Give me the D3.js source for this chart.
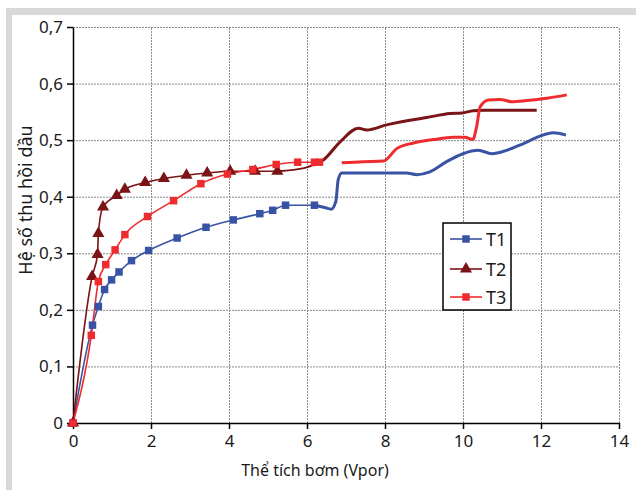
<!DOCTYPE html>
<html><head><meta charset="utf-8">
<script src="https://cdn.jsdelivr.net/npm/d3@7"></script>
<style>body{margin:0;background:#fff}svg{display:block}text{font-family:"Noto Sans",sans-serif;fill:#1a1a1a}</style>
</head><body>
<svg id="c" width="636" height="490"></svg>
<script>
const xTicks = [0,2,4,6,8,10,12,14];
const yTicks = [0,0.1,0.2,0.3,0.4,0.5,0.6,0.7];
const seriesNames = ["T1","T2","T3"];
// marker (measured) points
const t1Markers = [[0,0],[0.50,0.173],[0.65,0.206],[0.81,0.236],[0.99,0.253],[1.18,0.267],[1.50,0.287],[1.94,0.305],[2.67,0.327],[3.41,0.346],[4.11,0.359],[4.79,0.370],[5.12,0.376],[5.45,0.385],[6.19,0.385]];
const t2Markers = [[0,0],[0.49,0.259],[0.63,0.298],[0.65,0.335],[0.77,0.382],[1.12,0.402],[1.33,0.413],[1.85,0.425],[2.33,0.432],[2.91,0.438],[3.44,0.442],[4.03,0.445],[4.67,0.445],[5.24,0.445]];
const t3Markers = [[0,0],[0.47,0.155],[0.65,0.250],[0.84,0.280],[1.08,0.306],[1.33,0.333],[1.91,0.365],[2.58,0.393],[3.28,0.423],[3.96,0.440],[4.61,0.448],[5.21,0.457],[5.76,0.461],[6.19,0.461],[6.32,0.461]];
// thin line continuation after last T2 marker
const t2Bridge = [[5.24,0.445],[5.95,0.451],[6.16,0.456]];
// continuous (thick) tails
const t1Tail = [[6.19,0.385],[6.45,0.381],[6.62,0.378],[6.74,0.392],[6.80,0.430],[6.89,0.442],[8.55,0.442],[8.81,0.439],[9.15,0.444],[9.58,0.462],[10.0,0.476],[10.39,0.482],[10.74,0.476],[11.12,0.482],[11.55,0.494],[11.97,0.507],[12.31,0.513],[12.64,0.509]];
const t2Tail = [[6.16,0.456],[6.42,0.465],[6.85,0.497],[7.32,0.521],[7.53,0.518],[8.04,0.527],[9.07,0.540],[9.67,0.547],[9.97,0.548],[10.26,0.552],[10.52,0.553],[11.89,0.553]];
const t3Tail = [[6.89,0.460],[7.44,0.462],[7.96,0.463],[8.30,0.485],[8.73,0.495],[9.24,0.501],[9.75,0.505],[10.05,0.505],[10.25,0.501],[10.35,0.524],[10.44,0.559],[10.65,0.571],[10.95,0.572],[11.25,0.568],[11.63,0.570],[12.15,0.574],[12.66,0.580]];

const colors = {T1:"#3953a4", T2:"#7a1417", T3:"#ee2b2e"};
const svg = d3.select("#c");

// frame
svg.append("rect").attr("x",6).attr("y",8).attr("width",630).attr("height",7).attr("fill","#d8d8d8");
svg.append("rect").attr("x",6).attr("y",8).attr("width",6).attr("height",482).attr("fill","#d8d8d8");

const x = d3.scaleLinear().domain([0,14]).range([73,619]);
const y = d3.scaleLinear().domain([0,0.7]).range([423,27]);

// grid
const g = svg.append("g");
g.selectAll("line.gy").data(yTicks.filter(d=>d>0)).join("line")
  .attr("x1",x(0)).attr("x2",x(14)).attr("y1",d=>y(d)+0.5).attr("y2",d=>y(d)+0.5)
  .attr("stroke","#8a8a8a").attr("stroke-width",1).attr("stroke-dasharray","2,1");
g.selectAll("line.gx").data(xTicks.filter(d=>d>0)).join("line")
  .attr("x1",d=>x(d)+0.5).attr("x2",d=>x(d)+0.5).attr("y1",y(0)).attr("y2",y(0.7))
  .attr("stroke","#8a8a8a").attr("stroke-width",1).attr("stroke-dasharray","2,1");

// axes
const fmt = d => d===0 ? "0" : d3.format(".1f")(d).replace(".",",");
const ax = svg.append("g").attr("transform",`translate(0,${y(0)})`)
  .call(d3.axisBottom(x).tickValues(xTicks).tickSize(6).tickSizeOuter(0).tickPadding(6).tickFormat(d3.format("d")));
const ay = svg.append("g").attr("transform",`translate(${x(0)},0)`)
  .call(d3.axisLeft(y).tickValues(yTicks).tickSize(6).tickSizeOuter(0).tickPadding(4).tickFormat(fmt));
[ax,ay].forEach(a=>{
  a.selectAll("path,line").attr("stroke","#000").attr("stroke-width",1.5);
  a.selectAll("text").attr("font-size",17).attr("font-family","'Noto Sans',sans-serif").attr("fill","#1a1a1a");
});

svg.append("text").attr("x",315).attr("y",476).attr("text-anchor","middle").attr("font-size",16).text("Thể tích bơm (Vpor)");
svg.append("text").attr("transform","translate(32,200) rotate(-90)").attr("text-anchor","middle").attr("font-size",18).text("Hệ số thu hồi dầu");

const line = d3.line().x(d=>x(d[0])).y(d=>y(d[1])).curve(d3.curveMonotoneX);
const plot = svg.append("g");

const data = [
  {name:"T1", m:t1Markers, bridge:null, tail:t1Tail, sym:d3.symbolSquare},
  {name:"T2", m:t2Markers, bridge:t2Bridge, tail:t2Tail, sym:d3.symbolTriangle},
  {name:"T3", m:t3Markers, bridge:null, tail:t3Tail, sym:d3.symbolSquare}
];
data.forEach(s=>{
  plot.append("path").attr("d",line(s.m)).attr("fill","none").attr("stroke",colors[s.name]).attr("stroke-width",1.6);
  if(s.bridge) plot.append("path").attr("d",line(s.bridge)).attr("fill","none").attr("stroke",colors[s.name]).attr("stroke-width",2);
  plot.append("path").attr("d",line(s.tail)).attr("fill","none").attr("stroke",colors[s.name]).attr("stroke-width",3).attr("stroke-linejoin","round");
});
const symSize = s => s===d3.symbolTriangle ? 64 : 56;
data.forEach(s=>{
  const sym = d3.symbol().type(s.sym).size(symSize(s.sym));
  plot.selectAll(null).data(s.m).join("path")
    .attr("transform",d=>`translate(${x(d[0])},${y(d[1])})`)
    .attr("d",sym).attr("fill",colors[s.name]);
});

// legend
const lg = svg.append("g");
lg.append("rect").attr("x",443).attr("y",223).attr("width",68).attr("height",87).attr("fill","#fff").attr("stroke","#000").attr("stroke-width",1.5);
const ly = [239,269,297];
data.forEach((s,i)=>{
  lg.append("line").attr("x1",450).attr("x2",482).attr("y1",ly[i]).attr("y2",ly[i]).attr("stroke",colors[s.name]).attr("stroke-width",1.6);
  lg.append("path").attr("transform",`translate(466,${ly[i]})`).attr("d",d3.symbol().type(s.sym).size(symSize(s.sym))).attr("fill",colors[s.name]);
  lg.append("text").attr("x",486).attr("y",ly[i]+6.5).attr("font-size",18).text(seriesNames[i]);
});
</script>
</body></html>
